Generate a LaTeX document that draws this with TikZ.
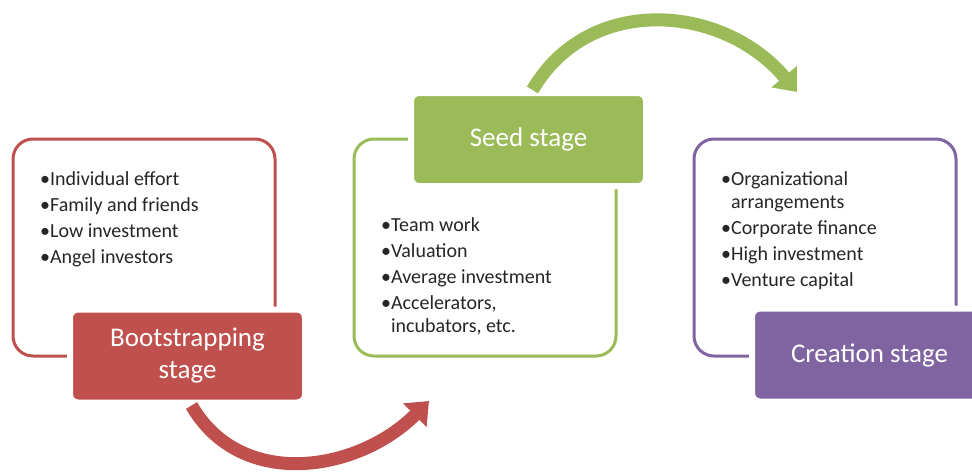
\documentclass[tikz,border=0pt]{standalone}
\usepackage{fontspec}
\setmainfont{Carlito}
\usetikzlibrary{arrows.meta}
\definecolor{bootred}{HTML}{C0504D}
\definecolor{seedgreen}{HTML}{9BBB59}
\definecolor{creapurple}{HTML}{8064A2}

\begin{document}
\begin{tikzpicture}[x=1pt,y=-1pt,
  frame/.style={draw=#1,line width=3pt,rounded corners=20pt,minimum width=262pt,minimum height=217pt},
  stage node/.style={fill=#1,draw=white,line width=6pt,rounded corners=8pt,minimum width=235pt,
    minimum height=93pt,text=white,font=\fontsize{27}{32}\selectfont,align=center},
  point list/.style={anchor=north west,align=left,inner sep=0pt,text=black!85,
    font=\fontsize{20}{23}\selectfont},
  flow/.style={line width=13pt,draw=#1,-{Triangle[length=20pt,width=32pt]}}]
  \useasboundingbox (0,0) rectangle (972,474);
  \fill[white] (0,0) rectangle (972,474);
  % outlines
  \node[frame=bootred] (bootbox) at (144,247.5) {};
  \node[frame=seedgreen] (seedbox) at (485,247.5) {};
  \node[frame=creapurple] (creabox) at (825,247.5) {};
  % bullet points
  \node[point list] (bootlist) at (40,171) {\textbullet Individual effort\\[3pt]
    \textbullet Family and friends\\[3pt]\textbullet Low investment\\[3pt]\textbullet Angel investors};
  \node[point list] (seedlist) at (381,217) {\textbullet Team work\\[3pt]\textbullet Valuation\\[3pt]
    \textbullet Average investment\\[3pt]\textbullet Accelerators,\\\phantom{\textbullet}incubators, etc.};
  \node[point list] (crealist) at (721,171) {\textbullet Organizational\\\phantom{\textbullet}arrangements\\[3pt]
    \textbullet Corporate finance\\[3pt]\textbullet High investment\\[3pt]\textbullet Venture capital};
  % stage labels
  \node[stage node=bootred] (blabel) at (187.5,356) {Bootstrapping\\stage};
  \node[stage node=seedgreen] (slabel) at (528.5,139.5) {Seed stage};
  \node[stage node=creapurple] (clabel) at (869.5,355) {Creation stage};
  % arrows
  \coordinate (seedin) at (429,401);
  \coordinate (creain) at (797,92);
  \draw[flow=bootred] ([xshift=4pt]blabel.south) .. controls (241,491) and (358,472) .. (seedin);
  \draw[flow=seedgreen] ([xshift=4pt]slabel.north) .. controls (589,-7) and (723,4) .. (creain);
\end{tikzpicture}
\end{document}
